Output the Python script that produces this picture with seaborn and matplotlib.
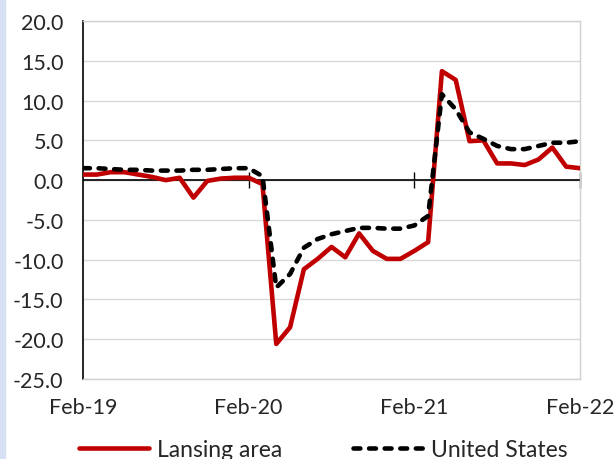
import numpy as np
import pandas as pd
import matplotlib.pyplot as plt
import seaborn as sns
from matplotlib.patches import Rectangle

# Monthly values, Feb-19 .. Feb-22
months = pd.date_range('2019-02-01', '2022-02-01', freq='MS')
lansing = [0.7, 0.7, 1.0, 1.0, 0.7, 0.4, 0.0, 0.3, -2.2, -0.1, 0.2, 0.3, 0.3,
           -0.5, -20.6, -18.5, -11.2, -9.9, -8.4, -9.7, -6.7, -8.9, -9.9, -9.9,
           -8.9, -7.8, 13.7, 12.6, 4.9, 5.0, 2.1, 2.1, 1.9, 2.6, 4.1, 1.7, 1.5]
us = [1.5, 1.5, 1.4, 1.3, 1.3, 1.2, 1.2, 1.2, 1.3, 1.3, 1.4, 1.5, 1.5,
      0.5, -13.5, -11.8, -8.5, -7.4, -6.8, -6.4, -6.0, -6.0, -6.1, -6.1,
      -5.7, -4.5, 10.8, 8.9, 6.0, 5.2, 4.3, 3.9, 3.9, 4.3, 4.7, 4.7, 4.9]
tick_pos = [0, 12, 24, 36]
tick_labels = ['Feb-19', 'Feb-20', 'Feb-21', 'Feb-22']

df = pd.DataFrame({'idx': np.arange(len(months)), 'Lansing area': lansing, 'United States': us})

sns.set_style('white')
plt.rcParams['font.family'] = ['Lato', 'DejaVu Sans']
plt.rcParams['axes.unicode_minus'] = False

fig = plt.figure(figsize=(6.15, 4.6), dpi=100)
ax = fig.add_axes([0.135, 0.174, 0.808, 0.778])
fig.patches.append(Rectangle((0, 0), 0.008, 1, transform=fig.transFigure,
                             color='#D6E0F2', zorder=0))

sns.lineplot(data=df, x='idx', y='Lansing area', ax=ax, color='#C00000', lw=3.3,
             label='Lansing area', zorder=3)
sns.lineplot(data=df, x='idx', y='United States', ax=ax, color='black', lw=3.3,
             label='United States', zorder=4)
ax.lines[1].set_dashes((1.5, 1.9))
ax.lines[1].set_dash_capstyle('round')

ax.set_xlim(0, 36)
ax.set_ylim(-25, 20)
ax.set_yticks(np.arange(-25, 21, 5))
ax.set_yticklabels([f'{v:.1f}' for v in np.arange(-25, 21, 5)], fontsize=15.5)
ax.set_xticks(tick_pos)
ax.set_xticklabels(tick_labels, fontsize=15.5)
ax.tick_params(axis='both', length=0)
ax.tick_params(axis='y', pad=14)
ax.tick_params(axis='x', pad=13)
ax.set_xlabel('')
ax.set_ylabel('')
ax.yaxis.grid(True, color='#D9D9D9', lw=1)
ax.set_axisbelow(True)
ax.axhline(0, color='black', lw=1.2, zorder=2)

for s in ['top', 'right', 'bottom']:
    ax.spines[s].set_color('#D0D0D0')
    ax.spines[s].set_linewidth(1)
ax.spines['left'].set_color('black')
ax.spines['left'].set_linewidth(1.2)

# tick marks on the zero axis
sec = ax.secondary_xaxis(25 / 45)
sec.set_xticks(tick_pos[1:])
sec.set_xticklabels([])
sec.tick_params(direction='inout', length=11, width=1, color='black')
sec.spines['bottom'].set_visible(False)

ax.get_legend().remove()
h, l = ax.get_legend_handles_labels()
fig.legend(h, l, loc='center', bbox_to_anchor=(0.526, 0.02), ncol=2,
           frameon=False, fontsize=16.5, handlelength=3.05, handletextpad=0.35,
           columnspacing=3.1)

fig.savefig('out.png', dpi=100)
